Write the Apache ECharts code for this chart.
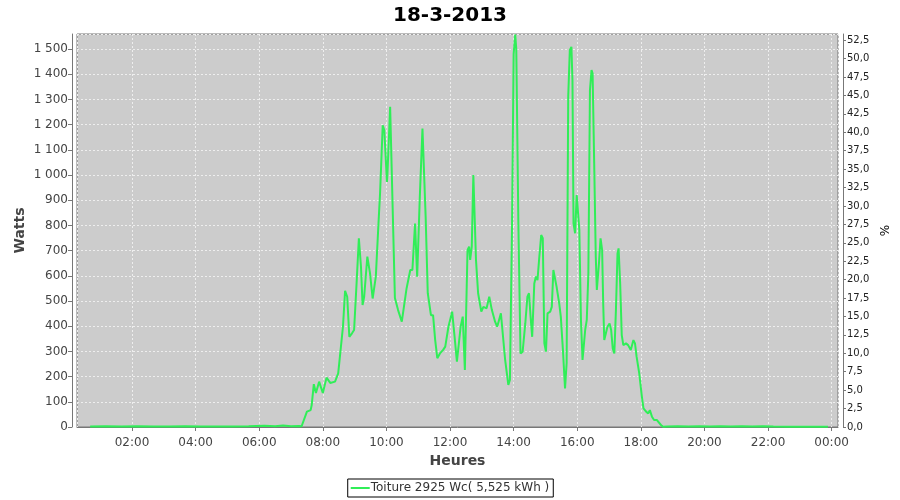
<!DOCTYPE html>
<html>
<head>
<meta charset="utf-8">
<script src="https://cdn.jsdelivr.net/npm/echarts@6/dist/echarts.min.js"></script>
<style>
  html, body { margin: 0; padding: 0; background: #ffffff; }
  #chart { width: 900px; height: 500px; }
</style>
</head>
<body>
<div id="chart"></div>
<script>
// ---- Data ----
const chartTitle = "18-3-2013";
const seriesName = "Toiture 2925 Wc( 5,525 kWh )";
const peakPower = 2925; // Wc, right axis is % of this

const times = [
  "00:41","01:10","01:40","02:10","02:40","03:10","03:40","04:10","04:40","05:10","05:40","06:10","06:30","06:45","07:00","07:15",
  "07:20","07:30","07:37","07:39","07:43","07:47","07:53","08:00","08:07","08:14","08:23","08:29","08:32","08:38","08:42","08:46",
  "08:50","08:55","08:59","09:04","09:08","09:12","09:15","09:18","09:24","09:29","09:34","09:37","09:40","09:45","09:48","09:53",
  "09:56","10:01","10:02","10:07","10:10","10:16","10:22","10:29","10:33","10:38","10:45","10:49","10:54","10:58","11:03","11:08",
  "11:11","11:14","11:18","11:24","11:28","11:32","11:36","11:41","11:47","11:51","11:57","12:04","12:08","12:13","12:16","12:20",
  "12:24","12:28","12:33","12:36","12:38","12:41","12:44","12:46","12:49","12:53","12:59","13:03","13:09","13:14","13:19","13:25",
  "13:29","13:36","13:39","13:44","13:50","13:53","13:57","14:00","14:03","14:05","14:09","14:13","14:17","14:22","14:26","14:29",
  "14:32","14:35","14:39","14:42","14:45","14:48","14:52","14:55","14:58","15:01","15:04","15:09","15:12","15:15","15:18","15:21",
  "15:26","15:29","15:33","15:37","15:40","15:43","15:46","15:49","15:51","15:53","15:56","15:59","16:01","16:04","16:07","16:10",
  "16:15","16:18","16:21","16:24","16:27","16:29","16:32","16:35","16:37","16:41","16:44","16:47","16:49","16:51","16:54","16:57",
  "17:01","17:04","17:07","17:10","17:13","17:16","17:18","17:21","17:24","17:27","17:32","17:36","17:41","17:46","17:49","17:52",
  "17:57","18:02","18:05","18:10","18:14","18:17","18:21","18:25","18:30","18:33","18:38","18:42",
  "18:50","19:10","19:30","19:50","20:10","20:30","20:50","21:10","21:30","21:50","22:10","22:40","23:10","23:30","23:53"
];
const watts = [
  2,3,2,3,2,2,3,2,2,2,3,5,3,6,3,4,
  3,61,67,87,170,135,180,135,196,175,180,213,274,398,541,517,
  358,372,385,583,749,636,484,517,676,611,510,504,597,808,928,1198,
  1179,973,1007,1271,1278,512,464,418,477,550,623,623,808,597,914,1185,
  1179,835,531,444,444,345,273,292,306,319,398,458,372,259,253,398,
  438,226,702,716,663,716,1000,993,663,531,458,477,471,517,464,418,
  398,451,451,266,167,187,800,1480,1558,1500,800,292,299,411,517,531,
  438,358,570,597,583,663,762,749,332,299,451,458,477,623,630,557,
  491,438,306,153,253,1311,1496,1509,1377,808,769,921,927,782,425,266,
  385,425,610,1337,1417,1403,1046,676,544,650,749,702,491,345,339,398,
  411,385,312,292,464,689,709,570,365,325,332,325,306,345,332,279,
  213,120,74,61,54,67,41,28,28,28,8,1,
  2,3,2,3,2,3,2,3,2,3,2,1,1,1,1
];

// ---- Build ----
function toHours(t) { const p = t.split(":"); return (+p[0]) + (+p[1]) / 60; }
const points = times.map((t, i) => [toHours(t), watts[i]]);

const leftMax = 1560;
const rightMax = leftMax / peakPower * 100;
const FONT = "DejaVu Sans";
const GREEN = '#30ee58';

const chart = echarts.init(document.getElementById('chart'), null, { renderer: 'canvas' });
chart.setOption({
  animation: false,
  backgroundColor: '#ffffff',
  textStyle: { fontFamily: FONT },
  title: {
    text: chartTitle, left: 'center', top: 1,
    textStyle: { fontFamily: FONT, fontSize: 20, fontWeight: 'bold', color: '#000000' }
  },
  legend: {
    bottom: 3, left: 'center',
    data: [{ name: seriesName, icon: 'rect' }],
    borderColor: '#000000', borderWidth: 1, padding: [3, 4, 3, 3],
    itemWidth: 19, itemHeight: 2, itemGap: 2,
    itemStyle: { color: GREEN },
    textStyle: { fontFamily: FONT, fontSize: 12, color: '#333333', padding: [0,0,0,-4] }
  },
  grid: {
    left: 77, right: 62, top: 34, bottom: 73,
    show: true, backgroundColor: '#cccccc', borderColor: '#777777', borderWidth: 1
  },
  xAxis: {
    type: 'value', min: 0.27, max: 24.2, splitNumber: 12,
    offset: 5,
    name: 'Heures', nameLocation: 'middle', nameGap: 22, nameMoveOverlap: false,
    nameTextStyle: { fontFamily: FONT, fontSize: 14, fontWeight: 'bold', color: '#444444' },
    axisLine: { show: true, lineStyle: { color: '#777777' } },
    axisTick: { show: true, length: 4, lineStyle: { color: '#777777' } },
    axisLabel: {
      fontFamily: FONT, fontSize: 12, color: '#444444', margin: 5,
      showMinLabel: false, showMaxLabel: false,
      formatter: v => { const h = Math.round(v) % 24; return (h < 10 ? '0' : '') + h + ':00'; }
    },
    splitLine: { show: true, lineStyle: { color: '#eeeeee', type: [2, 2], width: 1 } }
  },
  yAxis: [
    {
      type: 'value', min: 0, max: leftMax, interval: 100, position: 'left',
      offset: 5,
      name: 'Watts', nameLocation: 'middle', nameGap: 45, nameRotate: 90, nameMoveOverlap: false,
      nameTextStyle: { fontFamily: FONT, fontSize: 14, fontWeight: 'bold', color: '#444444' },
      axisLine: { show: true, lineStyle: { color: '#777777' } },
      axisTick: { show: true, length: 4, lineStyle: { color: '#777777' } },
      axisLabel: {
        fontFamily: FONT, fontSize: 12, color: '#444444', margin: 4, showMaxLabel: false,
        formatter: v => v >= 1000 ? Math.floor(v / 1000) + ' ' + String(v % 1000).padStart(3, '0') : String(v)
      },
      splitLine: { show: true, lineStyle: { color: '#eeeeee', type: [2, 2], width: 1 } }
    },
    {
      type: 'value', min: 0, max: rightMax, interval: 2.5, position: 'right',
      offset: 5,
      name: '%', nameLocation: 'middle', nameGap: 37, nameRotate: 90, nameMoveOverlap: false,
      nameTextStyle: { fontFamily: FONT, fontSize: 12, color: '#000000' },
      axisLine: { show: true, lineStyle: { color: '#777777' } },
      axisTick: { show: true, length: 3, lineStyle: { color: '#777777' } },
      axisLabel: {
        fontFamily: FONT, fontSize: 10, color: '#222222', margin: 4, showMaxLabel: false,
        formatter: v => v.toFixed(1).replace('.', ',')
      },
      splitLine: { show: false }
    }
  ],
  series: [{
    name: seriesName, type: 'line', yAxisIndex: 0,
    data: points, showSymbol: false, symbol: 'none',
    lineStyle: { color: GREEN, width: 2 },
    itemStyle: { color: GREEN },
    clip: true
  }]
});
</script>
</body>
</html>
